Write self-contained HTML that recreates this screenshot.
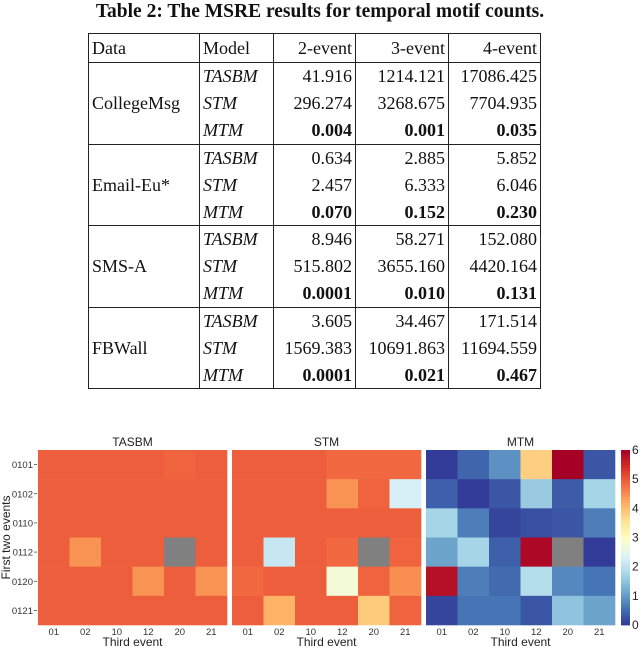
<!DOCTYPE html>
<html><head><meta charset="utf-8">
<style>
body{margin:0;background:#fff;width:640px;height:648px;overflow:hidden;position:relative;font-family:"Liberation Serif",serif}
#title{position:absolute;top:0;left:0;width:640px;text-align:center;font-weight:bold;font-size:19.5px;line-height:24px;color:#111}
table{position:absolute;left:88px;top:33px;border-collapse:collapse;font-size:18px;color:#111}
td{border-left:1.2px solid #222;border-right:1.2px solid #222;padding:0 3px;height:27.2px;line-height:26px;white-space:nowrap;box-sizing:border-box}
tr.hd td{border-top:1.2px solid #222;border-bottom:1.2px solid #222;height:29px}
tr.gs td{border-top:1.2px solid #222}
table{border-bottom:1.2px solid #222}
td.n{text-align:right}
td.m{font-style:italic}
b{font-weight:bold}
svg{position:absolute;left:0;top:0}
</style></head><body>
<div id="title">Table 2: The MSRE results for temporal motif counts.</div>
<table>
<colgroup><col style="width:111px"><col style="width:74px"><col style="width:82px"><col style="width:93px"><col style="width:92px"></colgroup>
<tr class="hd"><td>Data</td><td>Model</td><td class="n">2-event</td><td class="n">3-event</td><td class="n">4-event</td></tr>
<tr class="gs"><td rowspan="3">CollegeMsg</td><td class="m">TASBM</td><td class="n">41.916</td><td class="n">1214.121</td><td class="n">17086.425</td></tr>
<tr><td class="m">STM</td><td class="n">296.274</td><td class="n">3268.675</td><td class="n">7704.935</td></tr>
<tr><td class="m">MTM</td><td class="n"><b>0.004</b></td><td class="n"><b>0.001</b></td><td class="n"><b>0.035</b></td></tr>
<tr class="gs"><td rowspan="3">Email-Eu*</td><td class="m">TASBM</td><td class="n">0.634</td><td class="n">2.885</td><td class="n">5.852</td></tr>
<tr><td class="m">STM</td><td class="n">2.457</td><td class="n">6.333</td><td class="n">6.046</td></tr>
<tr><td class="m">MTM</td><td class="n"><b>0.070</b></td><td class="n"><b>0.152</b></td><td class="n"><b>0.230</b></td></tr>
<tr class="gs"><td rowspan="3">SMS-A</td><td class="m">TASBM</td><td class="n">8.946</td><td class="n">58.271</td><td class="n">152.080</td></tr>
<tr><td class="m">STM</td><td class="n">515.802</td><td class="n">3655.160</td><td class="n">4420.164</td></tr>
<tr><td class="m">MTM</td><td class="n"><b>0.0001</b></td><td class="n"><b>0.010</b></td><td class="n"><b>0.131</b></td></tr>
<tr class="gs"><td rowspan="3">FBWall</td><td class="m">TASBM</td><td class="n">3.605</td><td class="n">34.467</td><td class="n">171.514</td></tr>
<tr><td class="m">STM</td><td class="n">1569.383</td><td class="n">10691.863</td><td class="n">11694.559</td></tr>
<tr><td class="m">MTM</td><td class="n"><b>0.0001</b></td><td class="n"><b>0.021</b></td><td class="n"><b>0.467</b></td></tr>
</table>
<svg id="hm" width="640" height="648" font-family="Liberation Sans, sans-serif"></svg>
<script>
const xCats=["01","02","10","12","20","21"];
const yCats=["0101","0102","0110","0112","0120","0121"];
const panelTitles=["TASBM","STM","MTM"];
const tasbmValues=[
[4.95,4.95,4.95,4.95,4.9,4.95],
[4.95,4.95,4.95,4.95,4.95,4.95],
[4.95,4.95,4.95,4.95,4.95,4.95],
[4.95,4.45,4.95,4.95,null,4.95],
[4.95,4.95,4.95,4.45,4.95,4.45],
[4.95,4.95,4.95,4.95,4.95,4.95]];
const stmValues=[
[4.95,4.95,4.95,4.85,4.85,4.85],
[4.95,4.95,4.95,4.45,4.9,2.3],
[4.95,4.95,4.95,4.95,4.95,4.95],
[4.95,2.1,4.95,4.85,null,4.9],
[4.85,4.95,4.95,2.75,4.9,4.5],
[4.95,4.15,4.95,4.95,3.85,4.9]];
const mtmValues=[
[0.05,0.45,0.9,3.8,6.0,0.3],
[0.4,0.05,0.3,1.6,0.35,1.75],
[1.75,0.7,0.15,0.25,0.3,0.7],
[1.1,1.75,0.4,5.9,null,0.05],
[5.8,0.7,0.5,1.9,0.8,0.6],
[0.15,0.6,0.6,0.3,1.5,1.1]];
const cbTicks=[0,1,2,3,4,5,6];
const allValues=[tasbmValues,stmValues,mtmValues];

const stops=["#313695","#4575b4","#74add1","#abd9e9","#e0f3f8","#ffffbf","#fee090","#fdae61","#f46d43","#d73027","#a50026"];
function hex(h){return [1,3,5].map(i=>parseInt(h.substr(i,2),16));}
function color(v){if(v==null)return "#808080";let t=Math.max(0,Math.min(1,v/6))*10;let i=Math.min(9,Math.floor(t)),f=t-i;
 let a=hex(stops[i]),b=hex(stops[i+1]);return "rgb("+a.map((c,k)=>Math.round(c+(b[k]-c)*f)).join(",")+")";}
const svg=document.getElementById('hm');const NS="http://www.w3.org/2000/svg";
function mk(tag,attrs,txt){const e=document.createElementNS(NS,tag);for(const k in attrs)e.setAttribute(k,attrs[k]);if(txt!=null)e.textContent=txt;svg.appendChild(e);return e;}
const panelX=[38,232,426],pW=189,topY=450,pH=175;
const cw=pW/xCats.length,ch=pH/yCats.length;
const xScale=(p,i)=>panelX[p]+i*cw, yScale=i=>topY+i*ch;
panelTitles.forEach((t,p)=>{
 let tt=mk('text',{x:panelX[p]+pW/2,y:446,'text-anchor':'middle','font-size':12,fill:'#222'},t);
 
 
 allValues[p].forEach((row,r)=>row.forEach((v,c)=>{
  let e=mk('rect',{x:xScale(p,c),y:yScale(r),width:cw+0.3,height:ch+0.3,fill:color(v)});
  
  
 }));
 xCats.forEach((c,i)=>{
  let e=mk('text',{x:xScale(p,i)+cw/2,y:635,'text-anchor':'middle','font-size':9.5,fill:'#333'},c);
  
  
 });
 let xt=mk('text',{x:panelX[p]+pW/2,y:646,'text-anchor':'middle','font-size':12,fill:'#222'},'Third event');
 
 
});
yCats.forEach((c,i)=>{
 let e=mk('text',{x:33,y:yScale(i)+ch/2+3.5,'text-anchor':'end','font-size':9.5,fill:'#333'},c);
 
 
 mk('line',{x1:34,x2:37,y1:yScale(i)+ch/2,y2:yScale(i)+ch/2,stroke:'#333','stroke-width':0.7});
});
let yt=mk('text',{x:0,y:0,'text-anchor':'middle','font-size':12,fill:'#222',transform:'translate(10,'+(topY+pH/2)+') rotate(-90)'},'First two events');


const cbX=621,cbW=9;const cbY=v=>topY+pH-(v/6)*pH;
for(let k=0;k<60;k++){let v=k/10;let e=mk('rect',{x:cbX,y:cbY(v+0.1),width:cbW,height:pH/60+0.4,fill:color(v+0.05)});
 
 }
cbTicks.forEach(v=>{let e=mk('text',{x:632,y:cbY(v)+4,'font-size':12,fill:'#222'},String(v));
 
 });
</script>
</body></html>
